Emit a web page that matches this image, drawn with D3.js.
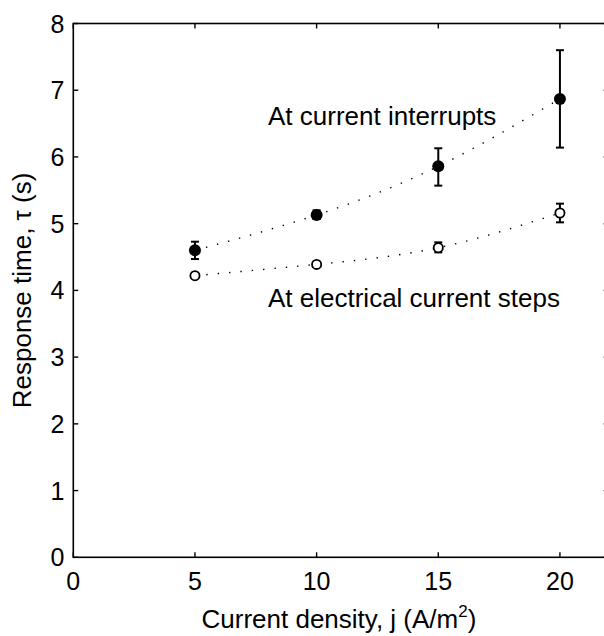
<!DOCTYPE html>
<html>
<head>
<meta charset="utf-8">
<script src="https://cdn.jsdelivr.net/npm/d3@7/dist/d3.min.js"></script>
<style>
  html, body { margin: 0; padding: 0; background: #fff; }
  svg { display: block; font-family: "Liberation Sans", Arial, Helvetica, sans-serif; }
</style>
</head>
<body>
<svg id="chart" width="604" height="636"></svg>
<script>
// ---- data ----
const currentDensity = [5, 10, 15, 20];
const interruptTau = [4.60, 5.13, 5.86, 6.87];
const interruptLow = [4.47, 5.07, 5.57, 6.14];
const interruptHigh = [4.73, 5.20, 6.13, 7.60];
const stepTau = [4.22, 4.39, 4.64, 5.16];
const stepLow = [4.20, 4.36, 4.57, 5.02];
const stepHigh = [4.25, 4.42, 4.72, 5.30];
const xTicks = [0, 5, 10, 15, 20];
const yTicks = [0, 1, 2, 3, 4, 5, 6, 7, 8];
const labelInterrupts = "At current interrupts";
const labelSteps = "At electrical current steps";

// ---- layout ----
const svg = d3.select("#chart");
const L = 73.3, T = 23.5, R = 608.6, B = 557.3;
const x = d3.scaleLinear().domain([0, 22]).range([L, R]);
const y = d3.scaleLinear().domain([0, 8]).range([B, T]);
const fsTick = 25;
const fsLab = 26;
const tickLen = 5;

// frame
svg.append("rect").attr("x", L).attr("y", T).attr("width", R - L).attr("height", B - T)
  .attr("fill", "none").attr("stroke", "#000").attr("stroke-width", 1.6);

// ticks (inward) on all four sides
const g = svg.append("g").attr("stroke", "#000").attr("stroke-width", 1.4);
xTicks.forEach(t => {
  g.append("line").attr("x1", x(t)).attr("x2", x(t)).attr("y1", B).attr("y2", B - tickLen);
  g.append("line").attr("x1", x(t)).attr("x2", x(t)).attr("y1", T).attr("y2", T + tickLen);
});
yTicks.forEach(t => {
  g.append("line").attr("y1", y(t)).attr("y2", y(t)).attr("x1", L).attr("x2", L + tickLen);
  g.append("line").attr("y1", y(t)).attr("y2", y(t)).attr("x1", R).attr("x2", R - tickLen);
});

// tick labels
svg.append("g").selectAll("text").data(xTicks).join("text")
  .attr("x", d => x(d)).attr("y", B + 33).attr("text-anchor", "middle")
  .attr("font-size", fsTick).text(d => d);
svg.append("g").selectAll("text").data(yTicks).join("text")
  .attr("x", L - 9).attr("y", d => y(d)).attr("dy", "0.36em").attr("text-anchor", "end")
  .attr("font-size", fsTick).text(d => d);

// axis labels
const xl = svg.append("text").attr("x", (L + R) / 2 - 2).attr("y", 628).attr("text-anchor", "middle")
  .attr("font-size", fsLab);
xl.append("tspan").text("Current density, j (A/m");
xl.append("tspan").attr("font-size", 17).attr("dy", -11).text("2");
xl.append("tspan").attr("dy", 11).text(")");

svg.append("text").attr("transform", `translate(31,${(T + B) / 2}) rotate(-90)`)
  .attr("text-anchor", "middle").attr("font-size", fsLab).text("Response time, \u03C4 (s)");

// dotted curves
const line = d3.line().x(d => x(d[0])).y(d => y(d[1])).curve(d3.curveNatural);
const dotted = (vals) => svg.append("path")
  .datum(currentDensity.map((c, i) => [c, vals[i]]))
  .attr("d", line).attr("fill", "none").attr("stroke", "#000")
  .attr("stroke-width", 1.4).attr("stroke-dasharray", "1.4,10");
dotted(interruptTau);
dotted(stepTau);

// error bars
function errBars(lo, hi) {
  const eg = svg.append("g").attr("stroke", "#000").attr("stroke-width", 2);
  currentDensity.forEach((c, i) => {
    const cx = x(c);
    eg.append("line").attr("x1", cx).attr("x2", cx).attr("y1", y(lo[i])).attr("y2", y(hi[i]));
    eg.append("line").attr("x1", cx - 4).attr("x2", cx + 4).attr("y1", y(lo[i])).attr("y2", y(lo[i]));
    eg.append("line").attr("x1", cx - 4).attr("x2", cx + 4).attr("y1", y(hi[i])).attr("y2", y(hi[i]));
  });
}
errBars(interruptLow, interruptHigh);
errBars(stepLow, stepHigh);

// markers
svg.append("g").selectAll("circle").data(currentDensity).join("circle")
  .attr("cx", d => x(d)).attr("cy", (d, i) => y(interruptTau[i])).attr("r", 6)
  .attr("fill", "#000");
svg.append("g").selectAll("circle").data(currentDensity).join("circle")
  .attr("cx", d => x(d)).attr("cy", (d, i) => y(stepTau[i])).attr("r", 4.6)
  .attr("fill", "#fff").attr("stroke", "#000").attr("stroke-width", 1.8);

// annotations
svg.append("text").attr("x", 268).attr("y", 124.5).attr("font-size", fsLab).text(labelInterrupts);
svg.append("text").attr("x", 268).attr("y", 306.5).attr("font-size", fsLab).text(labelSteps);
</script>
</body>
</html>
